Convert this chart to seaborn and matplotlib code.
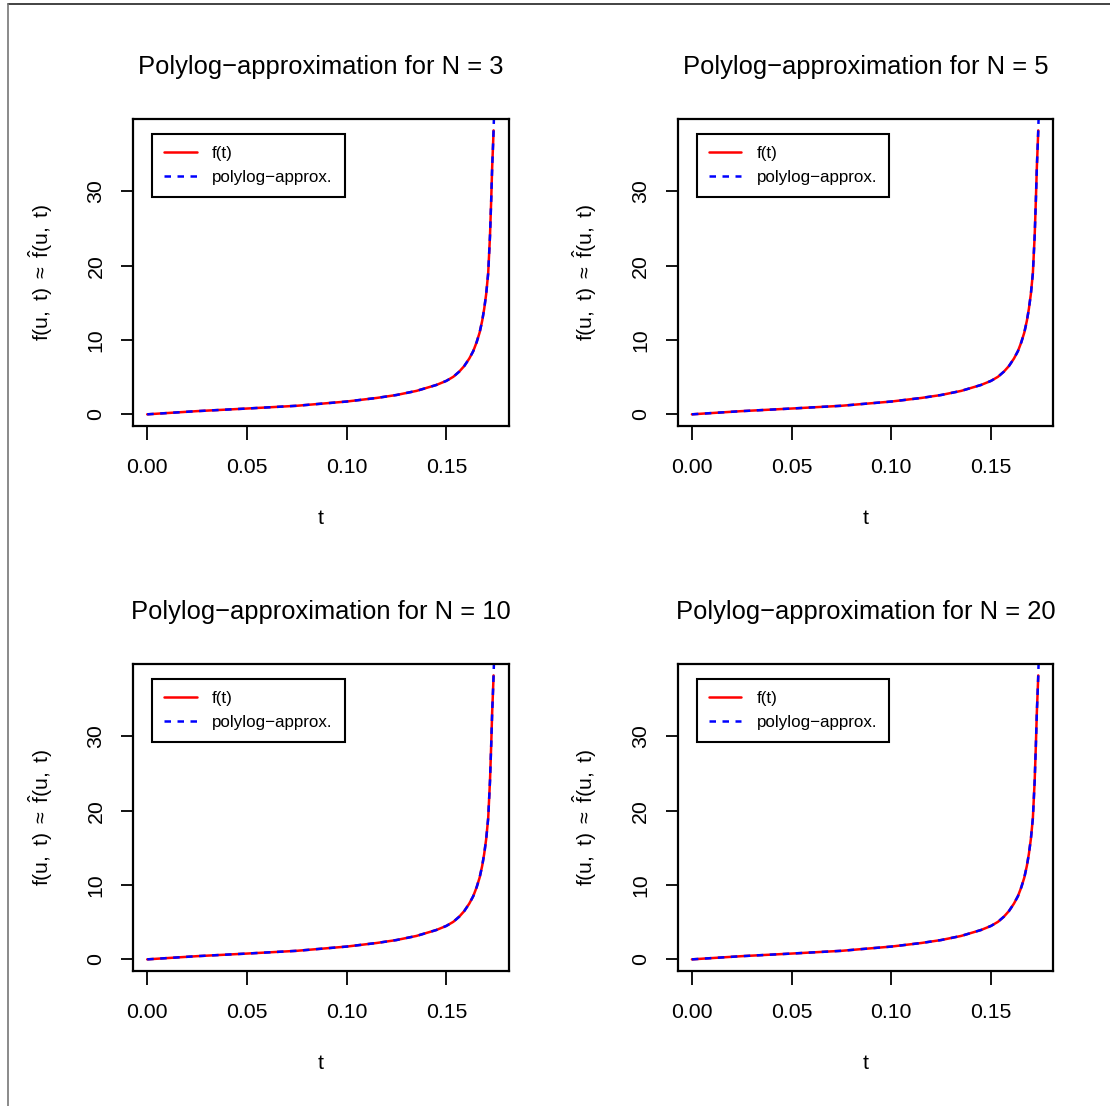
import numpy as np
import pandas as pd
import matplotlib
matplotlib.use("Agg")
import matplotlib.pyplot as plt
from matplotlib.lines import Line2D
import seaborn as sns

# values (all four panels look the same)
t_vals = [0.0, 0.025, 0.05, 0.075, 0.10, 0.115, 0.125, 0.135, 0.145, 0.150,
          0.1535, 0.1565, 0.159, 0.1615, 0.1635, 0.1652, 0.1667, 0.168, 0.169,
          0.170, 0.171, 0.1719, 0.1725, 0.1730, 0.1734, 0.1737]
f_vals = [0.0, 0.43, 0.78, 1.15, 1.72, 2.2, 2.6, 3.15, 3.95, 4.5,
          5.05, 5.75, 6.5, 7.5, 8.5, 9.7, 11.0, 12.6, 14.2,
          16.2, 19.0, 24.0, 28.8, 33.3, 36.0, 38.2]
# the approximation runs on a little past the top of the box
t_approx = t_vals + [0.1741]
approx_vals = f_vals + [42.0]

n_values = [3, 5, 10, 20]
approx_by_n = {3: approx_vals, 5: approx_vals, 10: approx_vals, 20: approx_vals}

sns.set_style("ticks")
plt.rcParams['font.family'] = ['Liberation Sans', 'DejaVu Sans']
plt.rcParams['mathtext.fontset'] = 'custom'
plt.rcParams['mathtext.rm'] = 'Liberation Sans'
plt.rcParams['mathtext.it'] = 'Liberation Sans'
plt.rcParams['text.color'] = 'black'
plt.rcParams['axes.labelcolor'] = 'black'

fs = 15.3

fig = plt.figure(figsize=(11.1, 11.06), dpi=100)
lefts = [0.1201, 0.6108]
bottoms = [0.6151, 0.1223]
w, h = 0.3382, 0.2773

for i, n in enumerate(n_values):
    ax = fig.add_axes([lefts[i % 2], bottoms[i // 2], w, h])
    df_f = pd.DataFrame({"t": t_vals, "y": f_vals})
    df_a = pd.DataFrame({"t": t_approx, "y": approx_by_n[n]})
    sns.lineplot(data=df_f, x="t", y="y", ax=ax, color="red", lw=1.8,
                 label="f(t)", sort=False)
    sns.lineplot(data=df_a, x="t", y="y", ax=ax, color="blue", lw=1.8,
                 linestyle=(0, (2.6, 2.6)), label="polylog\u2212approx.", sort=False)

    ax.set_xlim(-0.00697, 0.18129)
    ax.set_ylim(-1.53, 39.73)
    ax.set_xticks([0.0, 0.05, 0.10, 0.15])
    ax.set_xticklabels(["0.00", "0.05", "0.10", "0.15"])
    ax.set_yticks([0, 10, 20, 30])
    ax.set_yticklabels(["0", "10", "20", "30"], rotation=90, va="center")
    ax.tick_params(axis="x", length=10, width=1.3, pad=13, labelsize=fs, colors="black")
    ax.tick_params(axis="y", length=9, width=1.3, pad=11, labelsize=fs, colors="black")
    for sp in ax.spines.values():
        sp.set_visible(True)
        sp.set_linewidth(1.6)
        sp.set_color("black")

    ax.set_title(f"Polylog\u2212approximation for N = {n}", fontsize=fs * 1.2, pad=32.5)
    ax.set_xlabel("t", fontsize=fs, labelpad=23)
    ax.set_ylabel(r"$\mathrm{f(u,\ t)\ \approx\ \hat{f}(u,\ t)}$", fontsize=fs, labelpad=23)

    leg = ax.legend(loc="upper left", bbox_to_anchor=(0.0498, 0.951), borderaxespad=0,
                    fontsize=fs * 0.8, frameon=True, fancybox=False, framealpha=1,
                    edgecolor="black", handlelength=1.9, handletextpad=0.9,
                    borderpad=0.72, labelspacing=0.5)
    leg.get_frame().set_linewidth(1.5)

# frame of the screenshot on the top and left
fig.add_artist(Line2D([8 / 1110, 1], [1 - 4 / 1106, 1 - 4 / 1106], color="#222222", lw=1.2))
fig.add_artist(Line2D([8 / 1110, 8 / 1110], [0, 1 - 4 / 1106], color="#777777", lw=1.2))

fig.savefig("out.png", dpi=100)
